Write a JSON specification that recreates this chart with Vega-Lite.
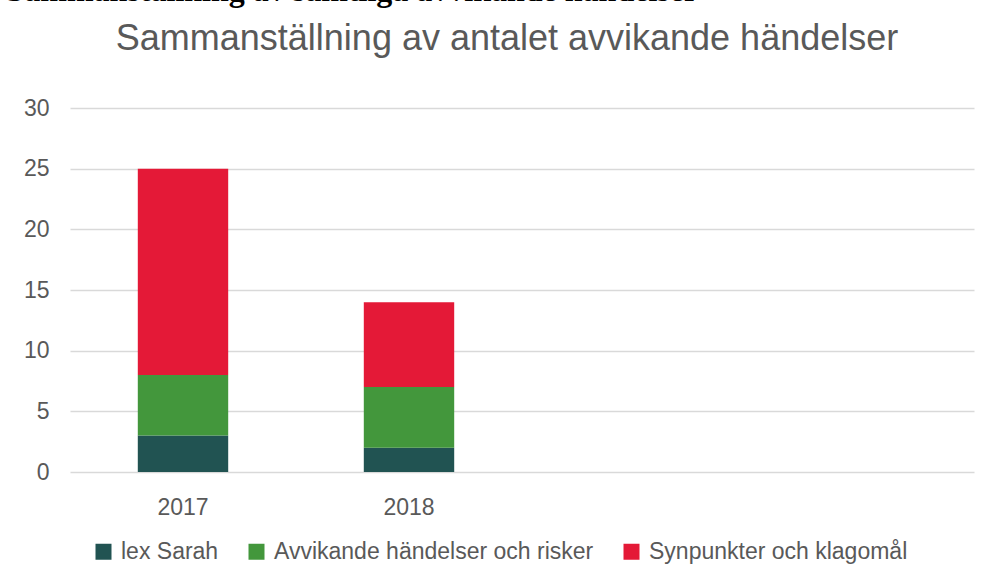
{
  "$schema": "https://vega.github.io/schema/vega-lite/v6.json",
  "autosize": {"type": "none"},
  "width": 904,
  "height": 364,
  "padding": {"left": 70, "top": 108, "right": 16, "bottom": 106},
  "background": "white",
  "title": {
    "text": "Sammanställning av antalet avvikande händelser",
    "font": "Liberation Sans",
    "fontSize": 36,
    "fontWeight": "normal",
    "color": "#595959",
    "anchor": "middle",
    "baseline": "alphabetic",
    "dx": -15,
    "offset": -112
  },
  "data": {
    "values": [
      {"year": "2017", "category": "lex Sarah", "value": 3, "ord": 1},
      {"year": "2017", "category": "Avvikande händelser och risker", "value": 5, "ord": 2},
      {"year": "2017", "category": "Synpunkter och klagomål", "value": 17, "ord": 3},
      {"year": "2018", "category": "lex Sarah", "value": 2, "ord": 1},
      {"year": "2018", "category": "Avvikande händelser och risker", "value": 5, "ord": 2},
      {"year": "2018", "category": "Synpunkter och klagomål", "value": 7, "ord": 3}
    ]
  },
  "mark": {"type": "bar", "width": {"band": 0.4}},
  "encoding": {
    "x": {
      "field": "year",
      "type": "nominal",
      "scale": {"paddingInner": 0, "paddingOuter": 1, "align": 0},
      "axis": {
        "title": null,
        "labelAngle": 0,
        "domain": false,
        "ticks": false,
        "labelPadding": 24,
        "labelFontSize": 23,
        "labelFont": "Liberation Sans",
        "labelColor": "#595959"
      }
    },
    "y": {
      "field": "value",
      "type": "quantitative",
      "stack": "zero",
      "scale": {"domain": [0, 30]},
      "axis": {
        "title": "Sammanställning av samtliga avvikande händelser",
        "titleAngle": 0,
        "titleAlign": "left",
        "titleBaseline": "alphabetic",
        "titleX": -64,
        "titleY": -108,
        "titleFont": "Liberation Serif",
        "titleFontSize": 32,
        "titleFontWeight": "bold",
        "titleColor": "black",
        "values": [0, 5, 10, 15, 20, 25, 30],
        "domain": false,
        "ticks": false,
        "grid": true,
        "gridColor": "#d9d9d9",
        "gridWidth": 1.5,
        "labelPadding": 21,
        "labelFontSize": 23,
        "labelFont": "Liberation Sans",
        "labelColor": "#595959"
      }
    },
    "color": {
      "field": "category",
      "type": "nominal",
      "scale": {
        "domain": ["lex Sarah", "Avvikande händelser och risker", "Synpunkter och klagomål"],
        "range": ["#215352", "#43973C", "#E41937"]
      },
      "legend": {
        "title": null,
        "orient": "none",
        "direction": "horizontal",
        "legendX": 22,
        "legendY": 432,
        "symbolType": "square",
        "symbolSize": 256,
        "symbolStrokeWidth": 0,
        "labelFontSize": 23,
        "labelFont": "Liberation Sans",
        "labelColor": "#595959",
        "labelOffset": 6,
        "columnPadding": 26,
        "labelLimit": 400
      }
    },
    "order": {"field": "ord", "type": "quantitative"}
  },
  "config": {
    "view": {"stroke": null}
  }
}
